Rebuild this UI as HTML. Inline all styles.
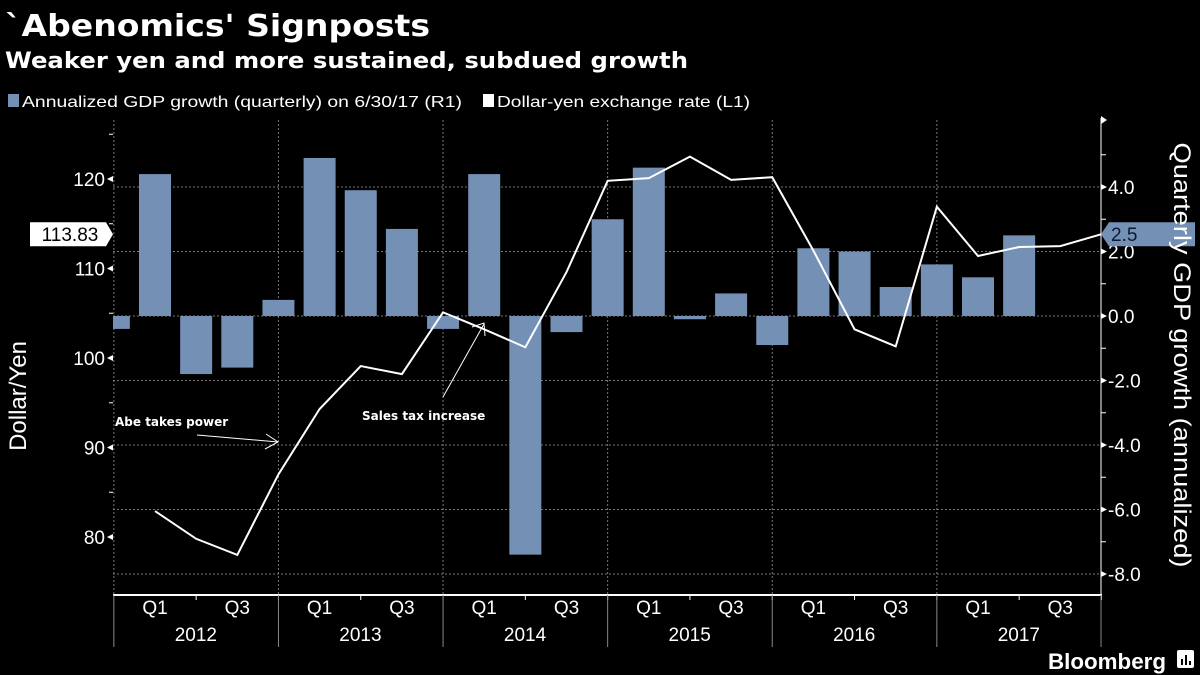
<!DOCTYPE html>
<html><head><meta charset="utf-8"><style>
html,body{margin:0;padding:0;background:#000;width:1200px;height:675px;overflow:hidden}
svg{display:block}
text{font-family:"Liberation Sans Narrow","Liberation Sans",sans-serif;fill:#fff}
.b{font-family:"DejaVu Sans","Liberation Sans",sans-serif;font-weight:bold}
</style></head><body>
<svg id="chart" width="1200" height="675" viewBox="0 0 1200 675">
<text class="b" x="5" y="36" font-size="30" textLength="425" lengthAdjust="spacingAndGlyphs">`Abenomics' Signposts</text>
<text class="b" x="5" y="68" font-size="22" textLength="683" lengthAdjust="spacingAndGlyphs">Weaker yen and more sustained, subdued growth</text>
<g>
<rect x="8" y="94" width="11" height="13" fill="#7590b5"/>
<text x="22" y="107" font-size="16" textLength="440" lengthAdjust="spacingAndGlyphs">Annualized GDP growth (quarterly) on 6/30/17 (R1)</text>
<rect x="483" y="94" width="11" height="13" fill="#fff"/>
<text x="497" y="107" font-size="16" textLength="253" lengthAdjust="spacingAndGlyphs">Dollar-yen exchange rate (L1)</text>
</g>
<g id="grid"></g>
<g id="bars"></g>
<g id="line"></g>
<g id="axes"></g>
<text x="115" y="426" font-size="13" class="b" style="font-size:12px">Abe takes power</text>
<g stroke="#fff" stroke-width="1" fill="none"><line x1="197" y1="435" x2="278" y2="442"/><polyline points="266,434 278,442 265,449"/></g>
<text x="362" y="420" class="b" style="font-size:12px">Sales tax increase</text>
<g stroke="#fff" stroke-width="1" fill="none"><line x1="443" y1="397" x2="484" y2="324"/><polyline points="472,327 484,323 485,336"/></g>
<text transform="translate(26,396) rotate(-90)" font-size="24" text-anchor="middle">Dollar/Yen</text>
<text transform="translate(1174,355) rotate(90)" font-size="24" text-anchor="middle" textLength="425" lengthAdjust="spacingAndGlyphs">Quarterly GDP growth (annualized)</text>
<g>
<text x="1166" y="669" text-anchor="end" font-size="22" font-weight="bold" textLength="118" lengthAdjust="spacingAndGlyphs">Bloomberg</text>
<rect x="1177" y="650" width="17" height="18" rx="2" fill="#fff"/>
<rect x="1181" y="659" width="2" height="6" fill="#000"/><rect x="1185" y="655" width="2" height="10" fill="#000"/><rect x="1189" y="661" width="2" height="4" fill="#000"/>
</g>
</svg>
<script>
const quarters=['Q4 2011','Q1 2012','Q2 2012','Q3 2012','Q4 2012','Q1 2013','Q2 2013','Q3 2013','Q4 2013','Q1 2014','Q2 2014','Q3 2014','Q4 2014','Q1 2015','Q2 2015','Q3 2015','Q4 2015','Q1 2016','Q2 2016','Q3 2016','Q4 2016','Q1 2017','Q2 2017'];
const gdpGrowth=[-0.4,4.4,-1.8,-1.6,0.5,4.9,3.9,2.7,-0.4,4.4,-7.4,-0.5,3.0,4.6,-0.1,0.7,-0.9,2.1,2.0,0.9,1.6,1.2,2.5];
const yenRate=[82.9,79.8,78.0,87.0,94.3,99.1,98.2,105.1,103.2,101.2,109.6,119.8,120.1,122.5,119.9,120.2,112.0,103.2,101.3,116.9,111.4,112.4,112.5,113.83];
const years=['2012','2013','2014','2015','2016','2017'];
const leftTicks=[80,90,100,110,120];
const rightTicks=[-8,-6,-4,-2,0,2,4];
const NS='http://www.w3.org/2000/svg';
const X0=113,X1=1101;
const xq=i=>155+i*41.15;          // i: quarter index from Q1 2012
const yL=v=>537-(v-80)*8.95;      // dollar-yen
const yR=v=>316-v*32.25;          // GDP
function mk(tag,attrs,parent){const e=document.createElementNS(NS,tag);for(const k in attrs)e.setAttribute(k,attrs[k]);parent.appendChild(e);return e;}
const grid=document.getElementById('grid'),bars=document.getElementById('bars'),line=document.getElementById('line'),axes=document.getElementById('axes');
// grid
rightTicks.forEach(v=>{const l=mk('line',{x1:X0,x2:X1,y1:yR(v),y2:yR(v),stroke:'#777','stroke-width':1,'stroke-dasharray':'2,2'},grid);

});
years.forEach((y,k)=>{const x=xq(k*4)-41.15;const l=mk('line',{x1:x,x2:x,y1:120,y2:595,stroke:'#777','stroke-width':1,'stroke-dasharray':'2,2'},grid);

});
// bars
gdpGrowth.forEach((v,i)=>{const cx=xq(i-1);let x=cx-16,w=32;if(x<X0){w-=X0-x;x=X0;}
const r=mk('rect',{x:x,width:w,y:Math.min(yR(v),yR(0)),height:Math.abs(yR(v)-yR(0)),fill:'#7590b5'},bars);

});
// line
const p=mk('polyline',{points:yenRate.map((v,i)=>xq(i)+','+yL(v)).join(' '),fill:'none',stroke:'#fff','stroke-width':2,'stroke-linejoin':'miter'},line);


// axes
let a=mk('line',{x1:X0,x2:X1+1,y1:595,y2:595,stroke:'#fff','stroke-width':2},axes);


a=mk('line',{x1:X1,x2:X1,y1:118,y2:595,stroke:'#fff','stroke-width':1},axes);


a=mk('polygon',{points:(X1)+',116 '+(X1+6)+',120 '+X1+',124',fill:'#fff'},axes);


[-7,-5,-3,-1,1,3,5].forEach(v=>{const t=mk('line',{x1:X1,x2:X1+5,y1:yR(v),y2:yR(v),stroke:'#fff'},axes);

});
rightTicks.forEach(v=>{const t=mk('polygon',{points:X1+','+(yR(v)-3)+' '+(X1+6)+','+yR(v)+' '+X1+','+(yR(v)+3),fill:'#fff'},axes);


const tx=mk('text',{x:X1+7,y:yR(v)+7,'font-size':19},axes);tx.textContent=v.toFixed(1);

});
[85,95,105,115,125].forEach(v=>{const t=mk('line',{x1:X0-4,x2:X0,y1:yL(v),y2:yL(v),stroke:'#fff'},axes);

});
leftTicks.forEach(v=>{const t=mk('polygon',{points:X0+','+(yL(v)-3)+' '+(X0-6)+','+yL(v)+' '+X0+','+(yL(v)+3),fill:'#fff'},axes);


const tx=mk('text',{x:X0-8,y:yL(v)+7,'font-size':19,'text-anchor':'end'},axes);tx.textContent=v;

});
// x labels
years.forEach((y,k)=>{const b=xq(k*4)-41.15;const s=mk('line',{x1:b,x2:b,y1:595,y2:647,stroke:'#888'},axes);


['Q1','Q3'].forEach((q,j)=>{const t=mk('text',{x:xq(k*4+j*2),y:614,'font-size':19,'text-anchor':'middle'},axes);t.textContent=q;

});
[1,3].forEach(j=>{const t=mk('line',{x1:xq(k*4+j),x2:xq(k*4+j),y1:595,y2:600,stroke:'#fff'},axes);

});
const t=mk('text',{x:b+82,y:641,'font-size':19,'text-anchor':'middle'},axes);t.textContent=y;

});
const eb=mk('line',{x1:X1,x2:X1,y1:595,y2:647,stroke:'#888'},axes);


// value labels
const lastY=yenRate[yenRate.length-1],yl=yL(lastY);
const lb=mk('polygon',{points:'30,'+(yl-12)+' 106,'+(yl-12)+' 113,'+yl+' 106,'+(yl+12)+' 30,'+(yl+12),fill:'#fff'},axes);


const lt=mk('text',{x:70,y:yl+7,'font-size':19,'text-anchor':'middle',style:'fill:#000'},axes);lt.textContent=lastY.toFixed(2);


const lastG=gdpGrowth[gdpGrowth.length-1],gl=yl;
const rb=mk('polygon',{points:X1+','+gl+' '+(X1+8)+','+(gl-12)+' 1195,'+(gl-12)+' 1195,'+(gl+12)+' '+(X1+8)+','+(gl+12),fill:'#7590b5'},axes);


const rt=mk('text',{x:X1+10,y:gl+7,'font-size':19,style:'fill:#0a1a33'},axes);rt.textContent=lastG.toFixed(1);


</script>
</body></html>
